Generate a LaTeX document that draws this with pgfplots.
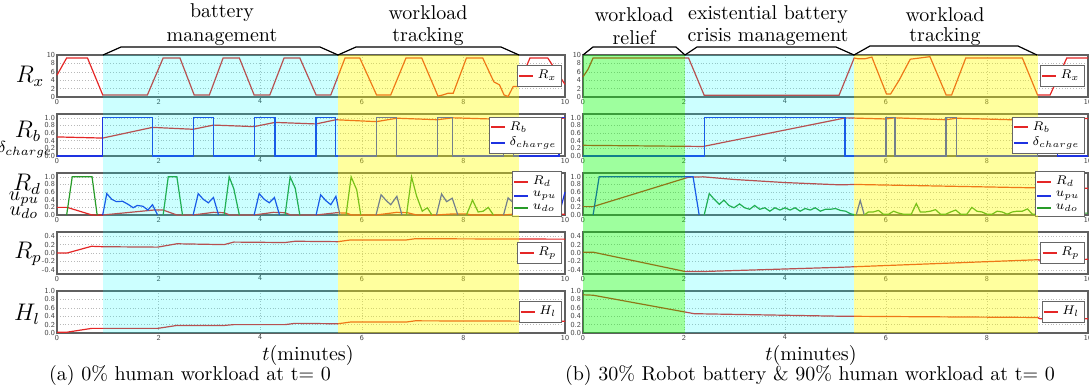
\documentclass[border=0pt]{standalone}
\usepackage{pgfplots}
\pgfplotsset{compat=1.18}
\definecolor{lred}{RGB}{228,38,38}
\definecolor{lblue}{RGB}{30,50,225}
\definecolor{lgreen}{RGB}{40,155,40}
\definecolor{shcyan}{RGB}{0,255,255}
\definecolor{shyellow}{RGB}{255,255,0}
\definecolor{shgreen}{RGB}{0,255,0}
\newcommand{\shadeL}[1]{%
  \fill[shcyan,fill opacity=0.2] (rel axis cs:0.09,0) rectangle (rel axis cs:0.553,#1);
  \fill[shyellow,fill opacity=0.38] (rel axis cs:0.553,0) rectangle (rel axis cs:0.909,#1);}
\newcommand{\shadeR}[1]{%
  \fill[shgreen,fill opacity=0.38] (rel axis cs:0,0) rectangle (rel axis cs:0.202,#1);
  \fill[shcyan,fill opacity=0.2] (rel axis cs:0.202,0) rectangle (rel axis cs:0.537,#1);
  \fill[shyellow,fill opacity=0.38] (rel axis cs:0.537,0) rectangle (rel axis cs:0.9,#1);}
\pgfplotsset{panel/.style={
  scale only axis, anchor=south west, height=21pt,
  xmin=0, xmax=10, xtick={0,2,4,6,8,10},
  grid=major, major grid style={densely dotted, gray!55, line width=0.3pt},
  axis line style={draw=gray!75!black, line width=0.6pt},
  major tick length=0pt,
  tick label style={font=\sffamily\fontsize{3.8}{4}\selectfont, text=black!75},
  /pgf/number format/assume math mode=true,
  xticklabel style={inner sep=0.8pt},
  yticklabel style={inner sep=0.8pt},
  clip=false, unbounded coords=jump,
  every axis plot/.append style={line width=0.6pt, mark=none},
  legend image code/.code={\draw[##1] (0pt,0pt) -- (7pt,0pt);},
  legend style={at={(0.993,0.5)}, anchor=east, font=\scriptsize, nodes={scale=0.9, transform shape}, draw=gray!80!black, fill=white, inner sep=0.5pt, row sep=-1.5pt},
  legend cell align=left,
},
dec/.style={yticklabel style={/pgf/number format/.cd, fixed, fixed zerofill, precision=1}},
}
\begin{document}
\begin{tikzpicture}
\useasboundingbox (0,0) rectangle (544.5pt,-194pt);
% ================= LEFT (a) =================
\begin{axis}[panel, at={(28.5pt,-48.5pt)}, width=254pt, ymin=0, ymax=10, ytick={0,2,4,6,8,10}]
\addplot[lred, forget plot] coordinates {(0,5.2)(0.19,9.3)(0.6,9.3)(0.9,0.5)(1.78,0.5)(2.09,9.3)(2.42,9.3)(2.7,0.5)(3.0,0.5)(3.27,9.3)(3.59,9.3)(3.88,0.5)(4.19,0.5)(4.47,9.3)(4.78,9.3)(5.1,0.5)(5.39,0.5)(5.67,9.3)(5.96,9.3)(6.29,0.5)(6.57,0.5)(6.87,9.3)(7.18,9.3)(7.5,0.2)(7.6,0.5)(7.7,0.9)(7.8,0.9)(8.06,9.3)(8.38,9.3)(8.6,3.6)(8.71,2.9)(8.8,0.5)(8.88,0.1)(8.98,2.5)(9.08,2.5)(9.31,9.3)(9.66,9.3)(10,3)};
\shadeL{1}
\addlegendimage{lred, line width=0.9pt}\addlegendentry{$R_x$}
\end{axis}
\begin{axis}[panel, dec, at={(28.5pt,-78pt)}, width=254pt, ymin=0, ymax=1.1, ytick={0,0.2,0.4,0.6,0.8,1}]
\addplot[lred, forget plot] coordinates {(0,0.5)(0.9,0.47)(1.88,0.75)(2.68,0.7)(3.08,0.81)(3.88,0.77)(4.29,0.88)(5.1,0.84)(5.49,0.95)(6.29,0.9)(6.69,0.99)(7.49,0.95)(7.79,1.0)(8.79,0.96)(8.98,0.99)(9.88,0.97)(10,1.0)};
\addplot[lblue, forget plot] coordinates {(0,0)(0.9,0)(0.9,1)(1.88,1)(1.88,0)(2.68,0)(2.68,1)(3.08,1)(3.08,0)(3.88,0)(3.88,1)(4.29,1)(4.29,0)(5.1,0)(5.1,1)(5.49,1)(5.49,0)(6.29,0)(6.29,1)(6.69,1)(6.69,0)(7.49,0)(7.49,1)(7.79,1)(7.79,0)(8.79,0)(8.79,1)(8.98,1)(8.98,0)(9.88,0)(9.88,1)(10,1)};
\shadeL{1.405}
\addlegendimage{lred, line width=0.9pt}\addlegendentry{$R_b$}
\addlegendimage{lblue, line width=0.9pt}\addlegendentry{$\delta_{charge}$}
\end{axis}
\begin{axis}[panel, dec, at={(28.5pt,-107.5pt)}, width=254pt, ymin=0, ymax=1.1, ytick={0,0.2,0.4,0.6,0.8,1}]
\addplot[lred, forget plot] coordinates {(0,0.2)(0.2,0.2)(0.69,0)(0.9,0)(1.9,0.13)(2.09,0.13)(2.36,0)(2.68,0)(3.08,0.07)(3.29,0.06)(3.4,0)(3.88,0)(4.26,0.07)(4.49,0.06)(4.6,0)(5.1,0)(5.5,0.06)(5.7,0.05)(5.8,0)(6.28,0)(6.69,0.07)(6.9,0.06)(7.08,0)(7.47,0)(7.8,0.03)(8.06,0.03)(8.16,0)(8.79,0)(9.05,0.03)(9.5,0.02)(10,0.02)};
\addplot[lblue, forget plot] coordinates {(0.9,0)(0.98,0.56)(1.08,0.41)(1.17,0.35)(1.29,0.36)(1.4,0.28)(1.5,0.19)(1.58,0.25)(1.69,0.23)(1.79,0.13)(1.88,0.27)(1.98,0)(2.0,nan)
(2.68,0)(2.78,0.56)(2.88,0.41)(2.98,0.32)(3.08,0.46)(3.18,0)(3.2,nan)
(3.88,0)(3.98,0.56)(4.08,0.41)(4.18,0.32)(4.28,0.46)(4.38,0)(4.4,nan)
(5.1,0)(5.19,0.53)(5.29,0.38)(5.39,0.27)(5.49,0.49)(5.57,0)(5.6,nan)
(6.28,0)(6.38,0.53)(6.48,0.38)(6.57,0.27)(6.69,0.49)(6.79,0)(6.8,nan)
(7.47,0)(7.57,0.55)(7.67,0.35)(7.78,0.44)(7.89,0)(7.9,nan)
(8.79,0)(8.88,0.45)(8.98,0.32)(9.08,0)(9.1,nan)
(9.88,0)(10,0.6)};
\addplot[lgreen, forget plot] coordinates {(0.19,0)(0.3,1)(0.69,1)(0.79,0)(0.8,nan)
(2.09,0)(2.19,1)(2.36,1)(2.47,0)(2.5,nan)
(3.29,0)(3.39,1)(3.48,0.69)(3.59,0)(3.6,nan)
(4.49,0)(4.59,1)(4.69,0.7)(4.78,0)(4.8,nan)
(5.69,0)(5.79,1)(5.9,0.66)(5.98,0)(6.0,nan)
(6.88,0)(6.98,1)(7.08,0.49)(7.19,0.1)(7.29,0.19)(7.38,0)(7.4,nan)
(8.06,0)(8.18,0.39)(8.29,0.08)(8.39,0.1)(8.49,0.2)(8.59,0)};
\shadeL{1.405}
\addlegendimage{lred, line width=0.9pt}\addlegendentry{$R_d$}
\addlegendimage{lblue, line width=0.9pt}\addlegendentry{$u_{pu}$}
\addlegendimage{lgreen, line width=0.9pt}\addlegendentry{$u_{do}$}
\end{axis}
\begin{axis}[panel, dec, at={(28.5pt,-137pt)}, width=254pt, ymin=-0.5, ymax=0.5, ytick={-0.4,-0.2,0,0.2,0.4}]
\addplot[lred, forget plot] coordinates {(0,0)(0.2,0)(0.68,0.16)(0.9,0.15)(1.98,0.14)(2.36,0.22)(3.29,0.2)(3.48,0.26)(4.49,0.25)(4.69,0.28)(5.53,0.27)(5.77,0.31)(6.87,0.31)(7.05,0.34)(10,0.33)};
\shadeL{1.405}
\addlegendimage{lred, line width=0.9pt}\addlegendentry{$R_p$}
\end{axis}
\begin{axis}[panel, dec, at={(28.5pt,-166.5pt)}, width=254pt, ymin=0, ymax=1, ytick={0,0.2,0.4,0.6,0.8,1}]
\addplot[lred, forget plot] coordinates {(0,0.02)(0.2,0.02)(0.68,0.11)(1.98,0.11)(2.36,0.18)(3.29,0.18)(3.48,0.2)(4.49,0.2)(4.69,0.23)(5.53,0.22)(5.77,0.26)(6.87,0.26)(7.05,0.29)(10,0.28)};
\shadeL{1.405}
\addlegendimage{lred, line width=0.9pt}\addlegendentry{$H_l$}
\end{axis}
% ================= RIGHT (b) =================
\begin{axis}[panel, at={(291.5pt,-48.5pt)}, width=252.5pt, ymin=0, ymax=10, ytick={0,2,4,6,8,10}]
\addplot[lred, forget plot] coordinates {(0,4.8)(0.1,6.6)(0.2,9.3)(2.09,9.3)(2.4,0.4)(5.07,0.4)(5.37,9.3)(5.45,9.1)(5.58,9.1)(5.72,9.5)(6.01,0.7)(6.09,0.7)(6.26,4.0)(6.48,9.0)(6.87,9.6)(7.19,0.5)(7.3,0.5)(7.58,9.3)(8.7,9.3)(9.0,0.5)(9.25,0.5)(9.58,9.3)(10,9.3)};
\shadeR{1}
\addlegendimage{lred, line width=0.9pt}\addlegendentry{$R_x$}
\end{axis}
\begin{axis}[panel, dec, at={(291.5pt,-78pt)}, width=252.5pt, ymin=0, ymax=1.1, ytick={0,0.2,0.4,0.6,0.8,1}]
\addplot[lred, forget plot] coordinates {(0,0.28)(2.38,0.25)(5.09,0.97)(5.19,1.0)(6.0,0.97)(6.18,1.0)(7.19,0.95)(7.4,0.99)(9.0,0.93)(9.39,0.99)(10,0.98)};
\addplot[lblue, forget plot] coordinates {(0,0)(2.4,0)(2.4,1)(5.19,1)(5.19,0)(6.0,0)(6.0,1)(6.18,1)(6.18,0)(7.19,0)(7.19,1)(7.4,1)(7.4,0)(9.0,0)(9.0,1)(9.39,1)(9.39,0)(10,0)};
\shadeR{1.405}
\addlegendimage{lred, line width=0.9pt}\addlegendentry{$R_b$}
\addlegendimage{lblue, line width=0.9pt}\addlegendentry{$\delta_{charge}$}
\end{axis}
\begin{axis}[panel, dec, at={(291.5pt,-107.5pt)}, width=252.5pt, ymin=0, ymax=1.1, ytick={0,0.2,0.4,0.6,0.8,1}]
\addplot[lred, forget plot] coordinates {(0,0.22)(0.2,0.22)(2.09,0.99)(2.38,1.0)(3,0.93)(4,0.85)(5.09,0.79)(5.39,0.8)(7,0.76)(9.01,0.71)(10,0.7)};
\addplot[lblue, forget plot] coordinates {(0.2,0)(0.32,1)(2.18,1)(2.3,0)(2.35,nan)(5.41,0)(5.49,0.38)(5.57,0)};
\addplot[lgreen, forget plot] coordinates {(2.4,0)(2.5,0.56)(2.6,0.41)(2.7,0.28)(2.79,0.39)(2.89,0.25)(2.99,0.19)(3.1,0.29)(3.2,0.19)(3.3,0.15)(3.4,0.25)(3.5,0.15)(3.6,0.19)(3.7,0.1)(3.8,0.19)(3.9,0.13)(4.0,0.19)(4.1,0.13)(4.2,0.19)(4.3,0.1)(4.4,0.17)(4.5,0.13)(4.6,0.19)(4.7,0.1)(4.8,0.15)(4.9,0.15)(5.0,0.17)(5.1,0.12)(5.2,0.1)(5.3,0.03)(5.41,0)(5.45,nan)
(5.57,0)(5.65,0.08)(5.75,0.08)(5.85,0.12)(5.95,0.02)(6.05,0.02)(6.15,0.1)(6.25,0.05)(6.35,0.02)(6.5,0.02)(6.6,0.3)(6.68,0.08)(6.78,0.08)(6.88,0.1)(6.98,0.14)(7.08,0.02)(7.18,0.02)(7.28,0.08)(7.38,0.13)(7.48,0.02)(7.6,0.02)(7.7,0.2)(7.8,0.1)(7.9,0.08)(8.0,0.02)(8.1,0.02)(8.2,0.1)(8.3,0.08)(8.4,0.02)(8.5,0.08)(8.6,0.1)(8.7,0.1)(8.8,0.16)(8.9,0.02)(9.0,0.02)(9.05,0.08)(9.25,0.08)(9.4,0.02)(9.6,0.02)(9.75,0.15)(9.9,0.05)(10,0.05)};
\shadeR{1.405}
\addlegendimage{lred, line width=0.9pt}\addlegendentry{$R_d$}
\addlegendimage{lblue, line width=0.9pt}\addlegendentry{$u_{pu}$}
\addlegendimage{lgreen, line width=0.9pt}\addlegendentry{$u_{do}$}
\end{axis}
\begin{axis}[panel, dec, at={(291.5pt,-137pt)}, width=252.5pt, ymin=-0.5, ymax=0.5, ytick={-0.4,-0.2,0,0.2,0.4}]
\addplot[lred, forget plot] coordinates {(0,0.02)(0.2,0.02)(2.02,-0.44)(2.4,-0.44)(5.09,-0.34)(9.0,-0.16)(9.05,-0.17)(10,-0.15)};
\shadeR{1.405}
\addlegendimage{lred, line width=0.9pt}\addlegendentry{$R_p$}
\end{axis}
\begin{axis}[panel, dec, at={(291.5pt,-166.5pt)}, width=252.5pt, ymin=0, ymax=1, ytick={0,0.2,0.4,0.6,0.8,1}]
\addplot[lred, forget plot] coordinates {(0,0.91)(0.2,0.9)(2.02,0.5)(2.2,0.46)(5.09,0.4)(9.0,0.37)(9.05,0.34)(10,0.34)};
\shadeR{1.405}
\addlegendimage{lred, line width=0.9pt}\addlegendentry{$H_l$}
\end{axis}
% ================= annotations (image px) =================
\begin{scope}[x=0.5pt,y=-0.5pt]
\draw[line width=0.6pt] (103,55)--(121,47)--(320,47)--(338,55);
\draw[line width=0.6pt] (338,55)--(356,47)--(501,47)--(519,55);
\draw[line width=0.6pt] (583,55)--(593,47)--(676,47)--(685,55);
\draw[line width=0.6pt] (685,55)--(697,47)--(836,47)--(854,55);
\draw[line width=0.6pt] (854,55)--(870,46)--(1018,46)--(1037,55);
\node at (222,13) {battery};
\node at (222,37) {management};
\node at (428,13) {workload};
\node at (428,37) {tracking};
\node at (634,15) {workload};
\node at (634,38) {relief};
\node at (768,15) {existential battery};
\node at (768,37) {crisis management};
\node at (945,15) {workload};
\node at (945,37) {tracking};
\node[font=\large] at (30,76) {$R_x$};
\node[font=\large] at (28,131) {$R_b$};
\node[font=\footnotesize, inner sep=0pt] at (25,150) {$\delta_{charge}$};
\node[font=\large, inner sep=0pt] at (27,184) {$R_d$};
\node[font=\normalsize, inner sep=0pt] at (24,199) {$u_{pu}$};
\node[font=\normalsize, inner sep=0pt] at (24,213) {$u_{do}$};
\node[font=\large] at (28,254) {$R_p$};
\node[font=\large] at (27,314) {$H_l$};
\node at (308,355) {$t$(minutes)};
\node at (811,355) {$t$(minutes)};
\node at (190,375) {(a) 0\% human workload at t= 0};
\node at (810,375) {(b) 30\% Robot battery \& 90\% human workload at t= 0};
\end{scope}
\end{tikzpicture}
\end{document}
